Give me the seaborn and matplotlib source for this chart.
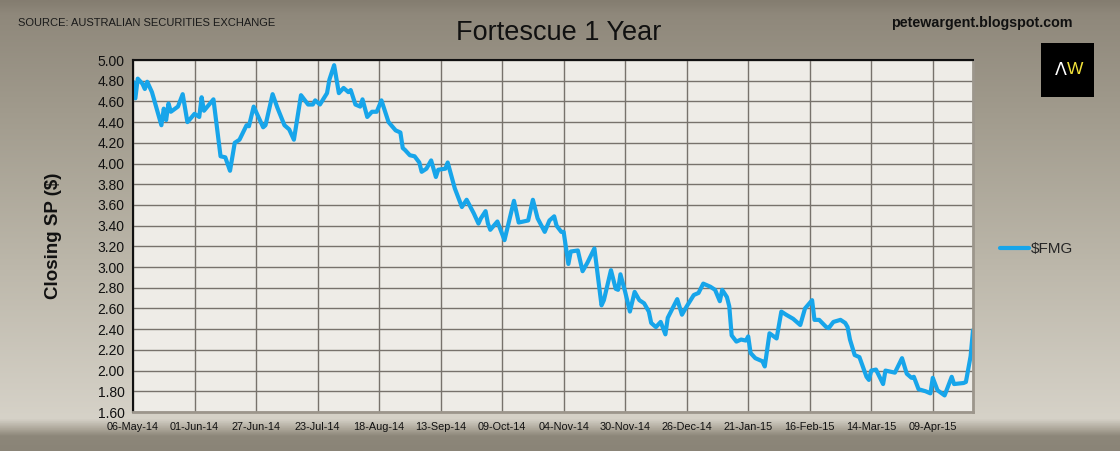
import numpy as np
import pandas as pd
import matplotlib
matplotlib.use("Agg")
import matplotlib.pyplot as plt
from matplotlib.colors import LinearSegmentedColormap
import seaborn as sns

# ---- data (days since 06-May-2014, closing share price) ----
start_date = "2014-05-06"
days = [0, 1, 2, 4, 5, 6, 8, 10, 12, 13, 14, 15, 16, 19, 21, 23, 26, 28, 29, 30,
        34, 37, 39, 41, 43, 45, 48, 49, 51, 55, 56, 59, 61, 64, 66, 68, 71, 74, 76, 77,
        79, 82, 83, 85, 87, 89, 91, 92, 94, 96, 97, 99, 101, 103, 105, 107, 108, 111, 113, 114,
        115, 117, 119, 121, 122, 124, 126, 128, 129, 132, 133, 136, 139, 141, 144, 146, 147, 149, 150, 151,
        154, 157, 161, 163, 167, 169, 171, 174, 176, 178, 179, 181, 182, 184, 185, 188, 190, 192, 195, 198,
        199, 202, 204, 205, 206, 208, 210, 212, 214, 216, 218, 219, 221, 223, 225, 226, 230, 232, 234, 237,
        239, 241, 244, 246, 248, 249, 251, 252, 253, 255, 257, 259, 260, 261, 263, 266, 267, 269, 272, 274,
        276, 279, 282, 284, 287, 288, 290, 293, 294, 296, 299, 301, 302, 303, 305, 307, 310, 311, 312, 314,
        317, 318, 322, 325, 327, 329, 330, 332, 335, 337, 338, 340, 343, 346, 347, 351, 352, 354, 355]
prices = [4.79, 4.63, 4.82, 4.77, 4.72, 4.79, 4.69, 4.53, 4.37, 4.53, 4.42, 4.58, 4.50, 4.55, 4.67, 4.40, 4.48, 4.45, 4.64, 4.51,
          4.62, 4.07, 4.06, 3.93, 4.20, 4.23, 4.37, 4.36, 4.55, 4.35, 4.37, 4.67, 4.54, 4.37, 4.33, 4.23, 4.66, 4.57, 4.57, 4.61,
          4.57, 4.68, 4.81, 4.95, 4.68, 4.73, 4.69, 4.71, 4.57, 4.55, 4.62, 4.45, 4.50, 4.50, 4.61, 4.47, 4.40, 4.32, 4.30, 4.15,
          4.13, 4.08, 4.07, 4.01, 3.92, 3.95, 4.03, 3.87, 3.94, 3.95, 4.01, 3.76, 3.58, 3.65, 3.52, 3.42, 3.47, 3.54, 3.42, 3.36,
          3.44, 3.26, 3.64, 3.43, 3.45, 3.65, 3.47, 3.34, 3.45, 3.49, 3.40, 3.34, 3.34, 3.03, 3.15, 3.16, 2.96, 3.04, 3.18, 2.63,
          2.68, 2.97, 2.79, 2.78, 2.93, 2.76, 2.57, 2.76, 2.68, 2.65, 2.57, 2.46, 2.42, 2.47, 2.35, 2.51, 2.69, 2.54, 2.62, 2.73,
          2.75, 2.84, 2.81, 2.78, 2.67, 2.78, 2.71, 2.62, 2.34, 2.28, 2.30, 2.29, 2.33, 2.17, 2.12, 2.09, 2.04, 2.36, 2.31, 2.57,
          2.54, 2.50, 2.44, 2.60, 2.68, 2.49, 2.49, 2.42, 2.41, 2.47, 2.49, 2.46, 2.42, 2.30, 2.15, 2.13, 1.94, 1.91, 2.00, 2.01,
          1.87, 2.00, 1.98, 2.12, 1.97, 1.93, 1.94, 1.82, 1.80, 1.78, 1.93, 1.81, 1.76, 1.94, 1.87, 1.88, 1.89, 2.14, 2.39]
series_name = "$FMG"
x_tick_labels = ["06-May-14", "01-Jun-14", "27-Jun-14", "23-Jul-14", "18-Aug-14", "13-Sep-14",
                 "09-Oct-14", "04-Nov-14", "30-Nov-14", "26-Dec-14", "21-Jan-15", "16-Feb-15",
                 "14-Mar-15", "09-Apr-15"]
y_ticks = [1.60, 1.80, 2.00, 2.20, 2.40, 2.60, 2.80, 3.00, 3.20, 3.40, 3.60, 3.80,
           4.00, 4.20, 4.40, 4.60, 4.80, 5.00]

dates = pd.to_datetime(start_date) + pd.to_timedelta(days, unit="D")
df = pd.DataFrame({"Date": dates, "Price": prices})
tick_dates = pd.to_datetime(x_tick_labels, format="%d-%b-%y")

sns.set_style("white")
fam = ["Liberation Sans", "DejaVu Sans"]
plt.rcParams["font.family"] = fam

fig = plt.figure(figsize=(11.2, 4.51), dpi=100)

# background gradient (frame)
bg = fig.add_axes([0, 0, 1, 1], zorder=-10)
cmap = LinearSegmentedColormap.from_list(
    "frame",
    [(0.0, "#847d70"), (0.03, "#8f887b"), (0.25, "#a19b8d"), (0.6, "#bdb8ab"),
     (0.93, "#d6d2c8"), (0.955, "#a8a295"), (0.968, "#8d877a"), (1.0, "#8a8477")])
grad = np.linspace(0, 1, 256).reshape(-1, 1)
bg.imshow(grad, aspect="auto", cmap=cmap, extent=[0, 1, 0, 1], origin="upper")
bg.set_axis_off()

ax = fig.add_axes([133 / 1120, 1 - 412 / 451, (973 - 133) / 1120, (412 - 60) / 451])
ax.set_facecolor("#eeece7")

sns.lineplot(data=df, x="Date", y="Price", ax=ax, color="#17a5ea", linewidth=3.0,
             label=series_name.replace("$", r"\$"), legend=False)

ax.set_xlim(pd.Timestamp("2014-05-06"), pd.Timestamp("2015-04-26"))
ax.set_ylim(1.60, 5.00)
ax.set_xticks(tick_dates)
ax.set_xticklabels(x_tick_labels, fontsize=7.8)
ax.set_yticks(y_ticks)
ax.set_yticklabels([f"{v:.2f}" for v in y_ticks], fontsize=10)
ax.grid(True, color="#77726c", linewidth=1.0)
ax.set_axisbelow(True)
ax.tick_params(axis="both", length=4, color="#555", pad=2, labelcolor="#111")
ax.tick_params(axis="x", length=5, direction="out", pad=2)
for side in ["top", "left"]:
    ax.spines[side].set_color("#111")
    ax.spines[side].set_linewidth(1.5)
for side in ["right", "bottom"]:
    ax.spines[side].set_color("#9c968c")
    ax.spines[side].set_linewidth(2.0)
ax.set_xlabel("")
ax.set_ylabel("Closing SP ($)", fontsize=13.5, fontweight="bold", color="#111")
ax.yaxis.set_label_coords((62 - 133) / 840, 0.5)

# legend
handles, labels = ax.get_legend_handles_labels()
fig.legend(handles, labels, loc="center left", bbox_to_anchor=(1000 / 1120, 1 - 249 / 451),
           frameon=False, handlelength=1.9, handletextpad=0.15, borderpad=0,
           borderaxespad=0, prop={"family": fam, "size": 11})

# texts
fig.text(18 / 1120, 1 - 23 / 451, "SOURCE: AUSTRALIAN SECURITIES EXCHANGE", fontsize=8,
         color="#1a1a1a", va="center")
fig.text(559 / 1120, 1 - 33 / 451, "Fortescue 1 Year", fontsize=19.5, ha="center", va="center",
         color="#111")
fig.text(1073 / 1120, 1 - 23 / 451, "petewargent.blogspot.com", fontsize=10.3, fontweight="bold",
         ha="right", va="center", color="#111")

# AW logo box
logo = fig.add_axes([1041 / 1120, 1 - 97 / 451, 53 / 1120, 54 / 451])
logo.set_facecolor("black")
logo.set_xticks([]); logo.set_yticks([])
for s in logo.spines.values():
    s.set_visible(False)
logo.text(0.38, 0.5, "Λ", color="white", fontsize=12.5, ha="center", va="center",
          family=["DejaVu Sans"])
logo.text(0.64, 0.5, "W", color="#f2e23a", fontsize=12.5, ha="center", va="center")

fig.savefig("out.png", dpi=100)
